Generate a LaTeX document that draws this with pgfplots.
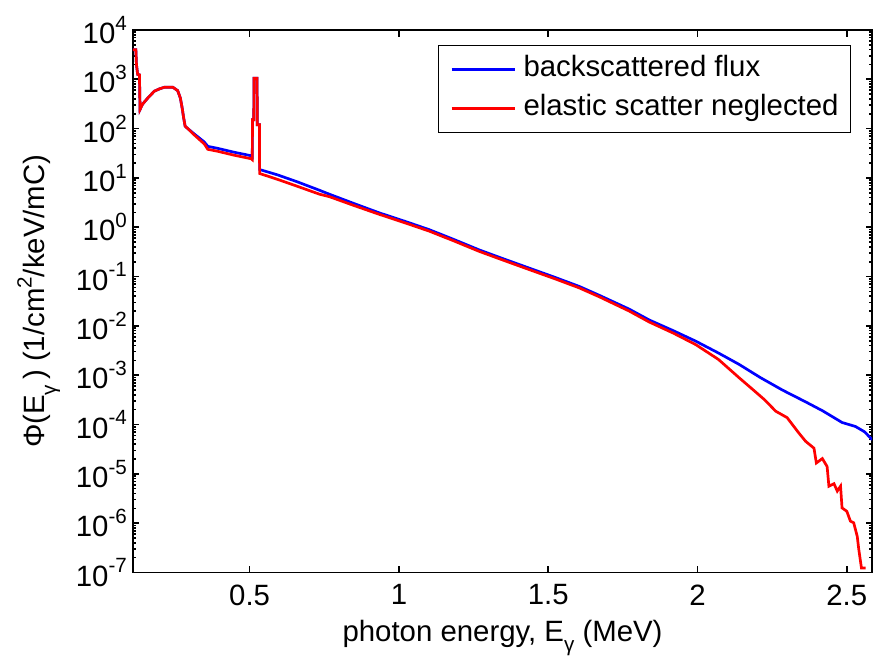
\documentclass[border=0pt]{standalone}
\usepackage{fontspec}
\setmainfont{Liberation Sans}
\usepackage{pgfplots}
\pgfplotsset{compat=1.18}
\newcommand{\sz}{\fontsize{14.7}{17}\selectfont}
\newcommand{\sm}{\fontsize{10.3}{11}\selectfont}
\newcommand{\ex}[1]{10\raisebox{0.45em}{\sm #1}}
\begin{document}
\begin{tikzpicture}
\useasboundingbox (-66.5pt,-45pt) rectangle (370.4pt,286.5pt);
\begin{axis}[
  at={(0pt,0pt)}, anchor=south west,
  scale only axis, width=370pt, height=271.5pt,
  xmin=0.109, xmax=2.585,
  ymode=log, ymin=1e-7, ymax=1e4,
  xtick={0.5,1,1.5,2,2.5},
  xticklabels={0.5,1,1.5,2,2.5},
  ytick={1e-7,1e-6,1e-5,1e-4,1e-3,1e-2,1e-1,1,10,100,1000,10000},
  yticklabels={\ex{-7},\ex{-6},\ex{-5},\ex{-4},\ex{-3},\ex{-2},\ex{-1},\ex{0},\ex{1},\ex{2},\ex{3},\ex{4}},
  minor ytick={2e-7,3e-7,4e-7,5e-7,6e-7,7e-7,8e-7,9e-7,
    2e-6,3e-6,4e-6,5e-6,6e-6,7e-6,8e-6,9e-6,
    2e-5,3e-5,4e-5,5e-5,6e-5,7e-5,8e-5,9e-5,
    2e-4,3e-4,4e-4,5e-4,6e-4,7e-4,8e-4,9e-4,
    2e-3,3e-3,4e-3,5e-3,6e-3,7e-3,8e-3,9e-3,
    2e-2,3e-2,4e-2,5e-2,6e-2,7e-2,8e-2,9e-2,
    0.2,0.3,0.4,0.5,0.6,0.7,0.8,0.9,
    2,3,4,5,6,7,8,9,
    20,30,40,50,60,70,80,90,
    200,300,400,500,600,700,800,900,
    2000,3000,4000,5000,6000,7000,8000,9000},
  tick label style={font=\sz},
  xticklabel style={yshift=-2.6pt},
  yticklabel style={xshift=0.5pt},
  axis line style={line width=0.8pt},
  every tick/.style={black, line width=0.8pt},
  major tick length=3.3pt, minor tick length=1.7pt,
  tick align=inside,
  xlabel={photon energy, E\raisebox{-0.37em}{\sm γ} (MeV)},
  ylabel={Φ(E\raisebox{-0.37em}{\sm γ}\,) (1/cm\raisebox{0.45em}{\sm 2}/keV/mC)},
  every axis x label/.style={at={(axis description cs:0.5,0)}, yshift=-34.35pt, anchor=base, font=\sz},
  every axis y label/.style={at={(axis description cs:0,0.5)}, xshift=-44pt, rotate=90, anchor=base, font=\sz},
  legend style={at={(axis description cs:1,1)}, anchor=north east, xshift=-10.5pt, yshift=-7.5pt,
    draw=black, line width=0.6pt, font=\sz, inner xsep=6pt, inner ysep=5.1pt, row sep=5.8pt, column sep=0pt,
    nodes={inner sep=0pt, text height=10.6pt, text depth=3.1pt, anchor=base west}},
  legend cell align=left,
  legend image code/.code={\draw[#1, line width=1.35pt] (0pt,3.7pt) -- (31.5pt,3.7pt); \path[draw=none,fill=none] (36pt,3.7pt) circle (0.01pt);},
]
\addplot[blue, line width=1.35pt] coordinates {
(0.109,3980) (0.119,3980) (0.121,1995) (0.125,1259) (0.131,1230) (0.133,245) (0.142,316) (0.159,417) (0.181,575) (0.200,646) (0.215,692) (0.2425,692) (0.259,589) (0.268,417) (0.274,263) (0.279,166) (0.284,112) (0.293,100) (0.315,77.6) (0.348,53.7) (0.360,43.7) (0.393,39.8) (0.449,33.1) (0.505,28.2) (0.509,26.9) (0.5095,151) (0.514,151) (0.5145,1047) (0.525,1047) (0.5255,120) (0.533,120) (0.5335,14.8) (0.594,11.5) (0.660,8.32) (0.734,5.62) (0.767,4.68) (0.850,3.02) (0.935,1.95) (1.020,1.32) (1.102,0.891) (1.185,0.562) (1.269,0.347) (1.350,0.229) (1.437,0.148) (1.520,0.0977) (1.604,0.0631) (1.671,0.0417) (1.771,0.0219) (1.838,0.0132) (1.920,0.00794) (1.994,0.0049) (2.070,0.00282) (2.139,0.00166) (2.211,8.91e-4) (2.284,5.01e-4) (2.362,2.88e-4) (2.418,1.91e-4) (2.484,1.10e-4) (2.529,9.12e-5) (2.560,7.08e-5) (2.585,4.9e-5)
};
\addlegendentry{backscattered flux}
\addplot[red, line width=1.35pt] coordinates {
(0.109,3980) (0.119,3980) (0.121,1995) (0.125,1259) (0.131,1230) (0.133,245) (0.142,316) (0.159,417) (0.181,575) (0.200,646) (0.215,692) (0.2425,692) (0.259,589) (0.268,417) (0.274,263) (0.279,166) (0.284,112) (0.293,100) (0.315,74.1) (0.348,49.0) (0.360,38.0) (0.393,34.7) (0.449,28.8) (0.505,24.5) (0.509,23.4) (0.5095,151) (0.514,151) (0.5145,1047) (0.525,1047) (0.5255,120) (0.533,120) (0.5335,12.3) (0.594,9.33) (0.660,6.76) (0.734,4.68) (0.767,4.17) (0.850,2.75) (0.935,1.82) (1.020,1.23) (1.102,0.832) (1.185,0.525) (1.269,0.324) (1.350,0.214) (1.437,0.138) (1.520,0.0912) (1.604,0.0589) (1.671,0.0389) (1.771,0.0200) (1.838,0.0120) (1.920,0.00708) (1.994,0.00417) (2.070,0.00209) (2.139,8.91e-4) (2.185,5.13e-4) (2.225,3.16e-4) (2.262,1.86e-4) (2.300,1.38e-4) (2.339,6.76e-5) (2.362,4.57e-5) (2.390,3.31e-5) (2.398,1.66e-5) (2.418,2.04e-5) (2.434,1.41e-5) (2.440,5.62e-6) (2.457,6.31e-6) (2.468,4.47e-6) (2.479,5.62e-6) (2.484,2.04e-6) (2.500,1.74e-6) (2.512,1.10e-6) (2.523,1.02e-6) (2.535,5.37e-7) (2.540,2.95e-7) (2.549,1.23e-7) (2.563,1.23e-7)
};
\addlegendentry{elastic scatter neglected}
\end{axis}
\end{tikzpicture}
\end{document}
